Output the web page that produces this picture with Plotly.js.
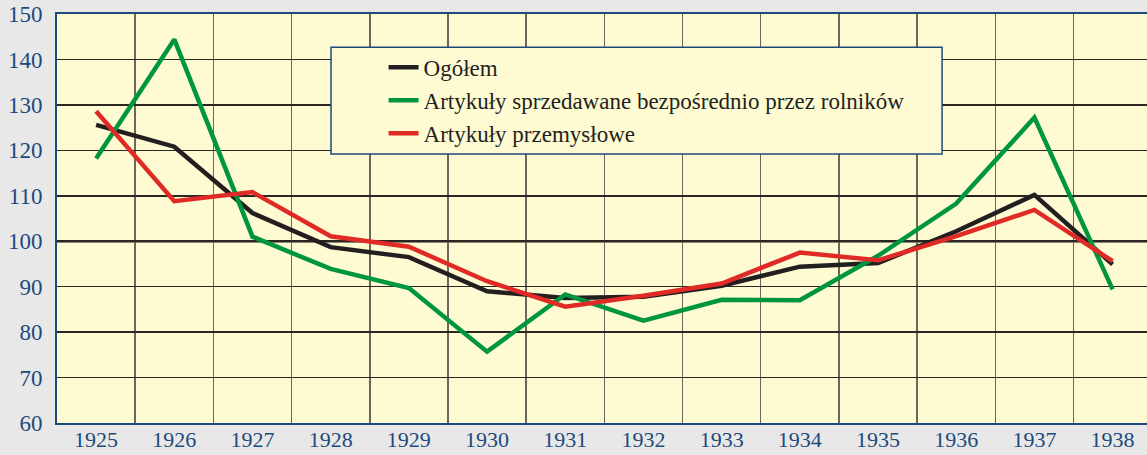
<!DOCTYPE html>
<html>
<head>
<meta charset="utf-8">
<script src="https://cdn.plot.ly/plotly-3.0.1.min.js"></script>
<style>html,body{margin:0;padding:0;background:#e8e8e8;}#chart{width:1147px;height:455px;}</style>
</head>
<body>
<div id="chart"></div>
<script>
const years = ['1925','1926','1927','1928','1929','1930','1931','1932','1933','1934','1935','1936','1937','1938'];
const ogolem = [125.6, 120.8, 106.2, 98.7, 96.5, 89.0, 87.5, 87.8, 90.2, 94.4, 95.2, 102.2, 110.2, 94.9];
const rolnicy = [118.2, 144.4, 101.0, 93.9, 89.7, 75.7, 88.3, 82.5, 87.1, 87.0, 96.8, 108.3, 127.2, 89.4];
const przemysl = [128.6, 108.8, 110.8, 101.1, 98.8, 91.2, 85.6, 88.0, 90.7, 97.5, 95.8, 101.1, 106.9, 95.6];
const seriesNames = ['Ogółem', 'Artykuły sprzedawane bezpośrednio przez rolników', 'Artykuły przemysłowe'];
const baseline = 100;

const colors = ['#231f20', '#00963f', '#df2a25'];
const serif = 'Liberation Serif';

const traces = [ogolem, rolnicy, przemysl].map((ys, i) => ({
  type: 'scatter', mode: 'lines', x: years, y: ys, name: seriesNames[i],
  line: {color: colors[i], width: 4.5}, hoverinfo: 'skip'
}));

const layout = {
  width: 1147, height: 455,
  margin: {l: 57, r: 0, t: 14, b: 32},
  paper_bgcolor: '#e8e8e8',
  plot_bgcolor: '#fefbd3',
  font: {family: serif},
  showlegend: true,
  legend: {
    x: 0.2996, y: 0.922, xanchor: 'left', yanchor: 'top',
    bgcolor: 'rgba(0,0,0,0)', borderwidth: 0,
    font: {family: serif, size: 23, color: '#231f20'},
    tracegroupgap: 0
  },
  xaxis: {
    type: 'category', range: [-0.5, 13.44], tickson: 'boundaries',
    showgrid: true, gridcolor: '#6e665b', gridwidth: 1.5,
    showline: true, linecolor: '#1c4a7c', linewidth: 2, mirror: true,
    ticks: '', ticklabelstandoff: -4,
    tickfont: {family: serif, size: 22, color: '#1c4a7c'},
    fixedrange: true
  },
  yaxis: {
    range: [60, 150], dtick: 10, tick0: 60,
    showgrid: true, gridcolor: '#2a2622', gridwidth: 1.5,
    zeroline: false,
    showline: true, linecolor: '#1c4a7c', linewidth: 2,
    ticks: '', ticklabelstandoff: 8,
    tickfont: {family: serif, size: 23, color: '#1c4a7c'},
    fixedrange: true
  },
  shapes: [
    {type: 'line', xref: 'paper', x0: 0, x1: 1, yref: 'y', y0: baseline, y1: baseline,
     line: {color: '#1a1716', width: 2.5}, layer: 'below'},
    {type: 'rect', xref: 'paper', yref: 'paper', x0: 0.2514, x1: 0.812, y0: 0.6577, y1: 0.919,
     fillcolor: '#fefbd3', line: {color: '#1c4a7c', width: 1.5}, layer: 'above'}
  ]
};

Plotly.newPlot('chart', traces, layout, {displayModeBar: false, staticPlot: true});
</script>
</body>
</html>
